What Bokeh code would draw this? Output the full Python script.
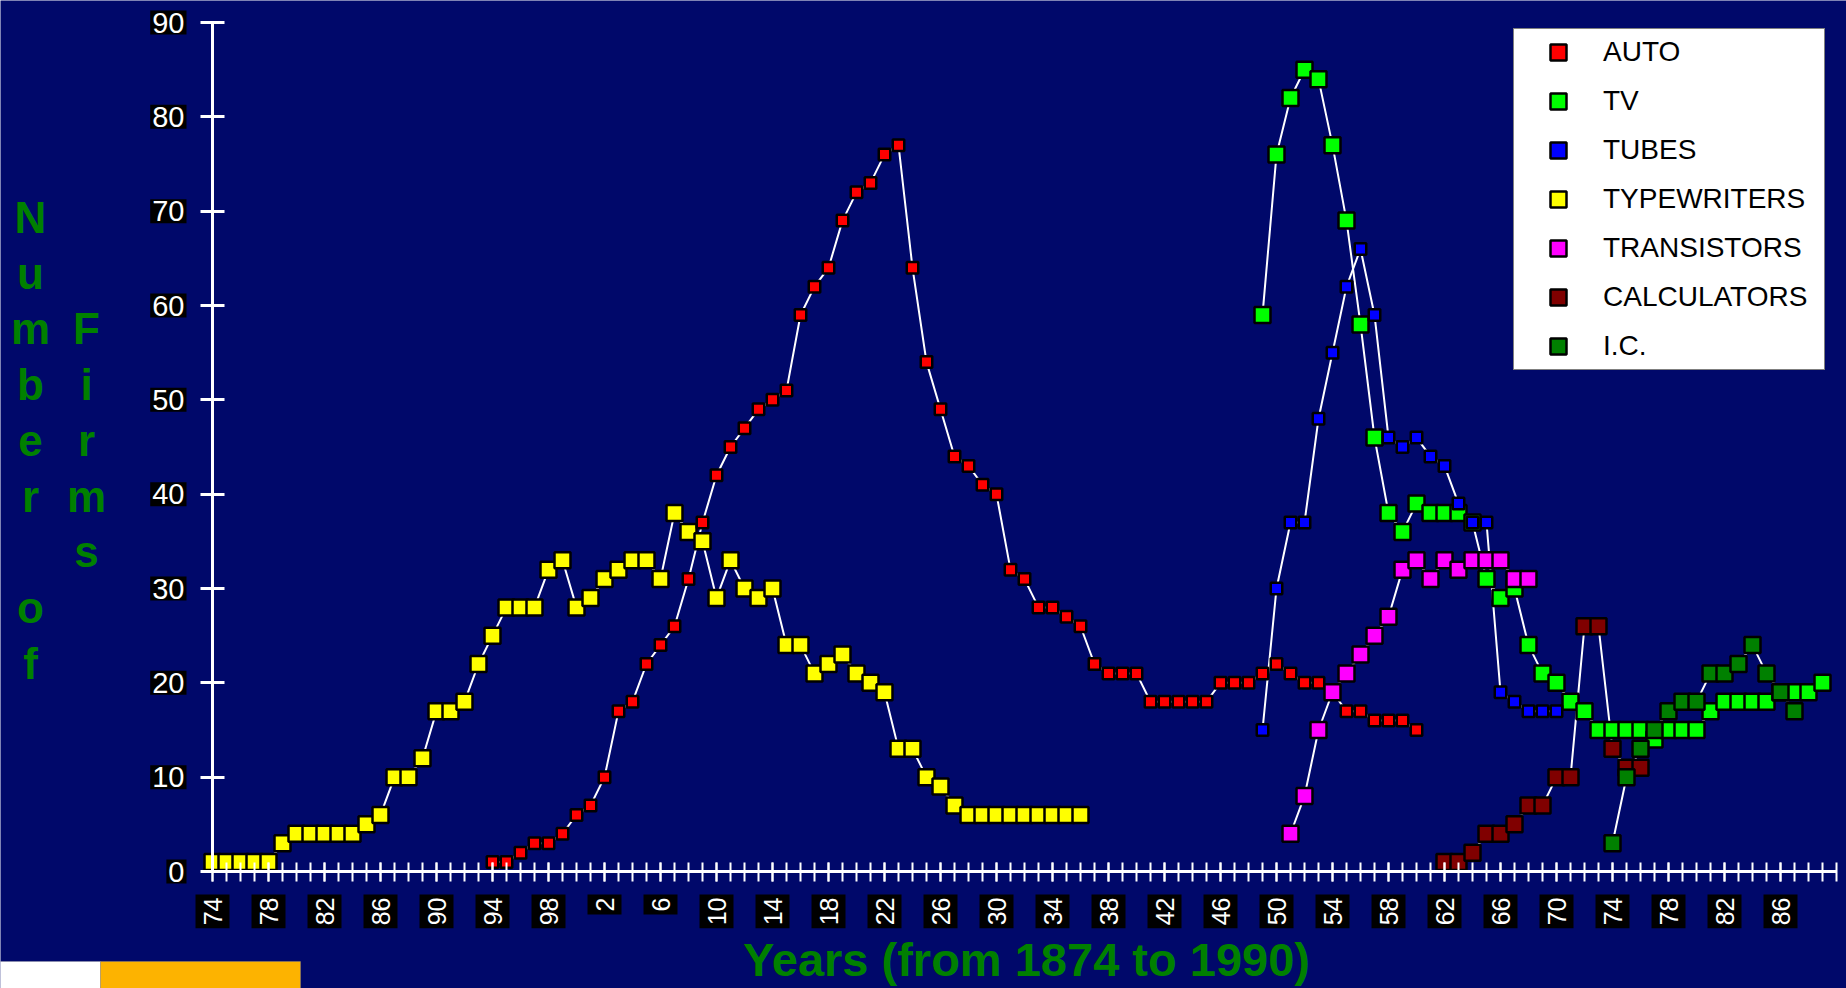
import math
from bokeh.plotting import figure
from bokeh.models import (Range1d, FixedTicker, Legend, LegendItem, Label,
                          BoxAnnotation, LinearAxis)
from bokeh.embed import file_html
from bokeh.resources import INLINE

# ---------------- data ----------------
typewriters_start = 1874
typewriters = [1, 1, 1, 1, 1, 3, 4, 4, 4, 4, 4, 5, 6, 10, 10, 12, 17, 17, 18, 22,
               25, 28, 28, 28, 32, 33, 28, 29, 31, 32, 33, 33, 31, 38, 36, 35, 29,
               33, 30, 29, 30, 24, 24, 21, 22, 23, 21, 20, 19, 13, 13, 10, 9, 7,
               6, 6, 6, 6, 6, 6, 6, 6, 6]
auto_start = 1894
auto = [1, 1, 2, 3, 3, 4, 6, 7, 10, 17, 18, 22, 24, 26, 31, 37, 42, 45, 47, 49,
        50, 51, 59, 62, 64, 69, 72, 73, 76, 77, 64, 54, 49, 44, 43, 41, 40, 32,
        31, 28, 28, 27, 26, 22, 21, 21, 21, 18, 18, 18, 18, 18, 20, 20, 20, 21,
        22, 21, 20, 20, 19, 17, 17, 16, 16, 16, 15]
tv_start = 1949
tv = [59, 76, 82, 85, 84, 77, 69, 58, 46, 38, 36, 39, 38, 38, 38, 37, 31, 29, 30,
      24, 21, 20, 18, 17, 15, 15, 15, 15, 14, 15, 15, 15, 17, 18, 18, 18, 18, 19,
      19, 19, 20]
tubes_start = 1949
tubes = [15, 30, 37, 37, 48, 55, 62, 66, 59, 46, 45, 46, 44, 43, 39, 37, 37, 19,
         18, 17, 17, 17]
transistors_start = 1951
transistors = [4, 8, 15, 19, 21, 23, 25, 27, 32, 33, 31, 33, 32, 33, 33, 33, 31, 31]
calculators_start = 1962
calculators = [1, 1, 2, 4, 4, 5, 7, 7, 10, 10, 26, 26, 13, 11, 11]
ic_start = 1974
ic = [3, 10, 13, 15, 17, 18, 18, 21, 21, 22, 24, 21, 19, 17]

y_ticks = [0, 10, 20, 30, 40, 50, 60, 70, 80, 90]
x_major_ticks = list(range(1874, 1987, 4))
x_minor_ticks = list(range(1874, 1991))
x_tick_labels = [str(y % 100) for y in x_major_ticks]

legend_order = ["AUTO", "TV", "TUBES", "TYPEWRITERS", "TRANSISTORS",
                "CALCULATORS", "I.C."]

# draw order (name, start, values, colour, marker size)
series = [
    ("TYPEWRITERS", typewriters_start, typewriters, "#FFFF00", 16),
    ("AUTO", auto_start, auto, "#FF0000", 11.5),
    ("TV", tv_start, tv, "#00FF00", 16),
    ("TUBES", tubes_start, tubes, "#0000FF", 11.5),
    ("TRANSISTORS", transistors_start, transistors, "#FF00FF", 16),
    ("CALCULATORS", calculators_start, calculators, "#800000", 16),
    ("I.C.", ic_start, ic, "#008000", 16),
]

BG = "#00086A"
FONT = "Liberation Sans"
GREEN = "#008000"

W, H = 1846, 988
# pixel geometry of the plotting area
X0_PX, PX_PER_YEAR = 212, 14.0       # x pixel of 1874, pixels per year
Y0_PX, PX_PER_UNIT = 871, 9.433      # y pixel of 0, pixels per firm


def dx(px):
    return 1874 + (px - X0_PX) / PX_PER_YEAR


def dy(py):
    return (Y0_PX - py) / PX_PER_UNIT


p = figure(width=W, height=H, output_backend="svg", toolbar_location=None,
           x_range=Range1d(dx(0), dx(W)), y_range=Range1d(dy(H), dy(0)),
           x_axis_location=None, y_axis_location=None,
           min_border=0, min_border_left=0, min_border_right=0,
           min_border_top=0, min_border_bottom=0,
           background_fill_color=BG, border_fill_color=BG,
           outline_line_color=None)
p.grid.visible = False

xa = LinearAxis(fixed_location=0, bounds=(1874, 1990),
                ticker=FixedTicker(ticks=x_major_ticks, minor_ticks=x_minor_ticks),
                major_label_overrides={t: "" for t in x_major_ticks})
ya = LinearAxis(fixed_location=1874, bounds=(0, 90),
                ticker=FixedTicker(ticks=y_ticks, minor_ticks=[]),
                major_label_overrides={t: "" for t in y_ticks})
for ax in (xa, ya):
    ax.axis_line_color = "white"
    ax.axis_line_width = 3
    ax.major_tick_line_color = "white"
    ax.minor_tick_line_color = "white"
    ax.major_label_text_color = "white"
    ax.major_label_text_font_size = "1px"
xa.major_tick_in = 9
xa.major_tick_out = 10
xa.minor_tick_in = 9
xa.minor_tick_out = 10
xa.major_tick_line_width = 2
xa.minor_tick_line_width = 2
ya.major_tick_in = 12
ya.major_tick_out = 12
ya.major_tick_line_width = 3
p.add_layout(xa, "below")
p.add_layout(ya, "left")


def make_label(pad_xy, **kw):
    """Label with padding (along-text, across-text)."""
    px, py = pad_xy
    for pad in ({"x": px, "y": py}, (py, px), max(px, py)):
        try:
            return Label(padding=pad, **kw)
        except Exception:
            continue
    return Label(**kw)


# tick labels: white text on black boxes
for t, l in zip(x_major_ticks, x_tick_labels):
    p.add_layout(make_label((3, 8), x=t, y=dy(894), text=l, angle=math.pi / 2,
                            text_align="right", text_baseline="middle",
                            text_color="white", text_font=FONT,
                            text_font_size="25px",
                            background_fill_color="black"))
for t in y_ticks:
    p.add_layout(make_label((2, 2), x=dx(186), y=t, text=str(t),
                            text_align="right", text_baseline="middle",
                            text_color="white", text_font=FONT,
                            text_font_size="29px",
                            background_fill_color="black"))

# lines first, then markers
for name, start, vals, col, size in series:
    yrs = list(range(start, start + len(vals)))
    p.line(yrs, vals, line_color="white", line_width=2)

renderers = {}
for name, start, vals, col, size in series:
    yrs = list(range(start, start + len(vals)))
    renderers[name] = p.scatter(yrs, vals, marker="square", size=size,
                                fill_color=col, line_color="black",
                                line_width=2.5)

legend = Legend(items=[LegendItem(label=n, renderers=[renderers[n]])
                       for n in legend_order],
                location=(1513, H - 370), orientation="vertical",
                background_fill_color="white", background_fill_alpha=1.0,
                border_line_color="black", border_line_width=1,
                label_text_font=FONT, label_text_font_size="28px",
                label_text_color="black", glyph_width=82, glyph_height=40,
                label_standoff=4, spacing=9, padding=3, label_width=218,
                label_height=40, margin=0)
p.add_layout(legend)

# vertical, stacked y-axis title "Number of Firms"
col1 = ["N", "u", "m", "b", "e", "r", "", "o", "f"]
col2 = ["", "", "F", "i", "r", "m", "s", "", ""]
for i, (a, b) in enumerate(zip(col1, col2)):
    base = 217 + 55.7 * i
    for ch, px in ((a, 30), (b, 86)):
        if ch:
            p.add_layout(Label(x=dx(px), y=dy(base), text=ch,
                               text_align="center", text_baseline="alphabetic",
                               text_font=FONT, text_font_style="bold",
                               text_font_size="44px", text_color=GREEN))

# x-axis title
p.add_layout(Label(x=dx(1026), y=dy(959),
                   text="Years (from 1874 to 1990)", text_align="center",
                   text_baseline="alphabetic", text_font=FONT,
                   text_font_style="bold", text_font_size="47px",
                   text_color=GREEN))

# slide footer blocks at bottom left
p.add_layout(BoxAnnotation(left=dx(-2), right=dx(100), bottom=dy(H + 5),
                           top=dy(961), fill_color="white", fill_alpha=1,
                           line_color="#A0A0A0", line_width=1))
p.add_layout(BoxAnnotation(left=dx(100), right=dx(300), bottom=dy(H + 5),
                           top=dy(961), fill_color="#FDB300", fill_alpha=1,
                           line_color="#A0A0A0", line_width=1))

open("out.html", "w").write(file_html(p, INLINE))
